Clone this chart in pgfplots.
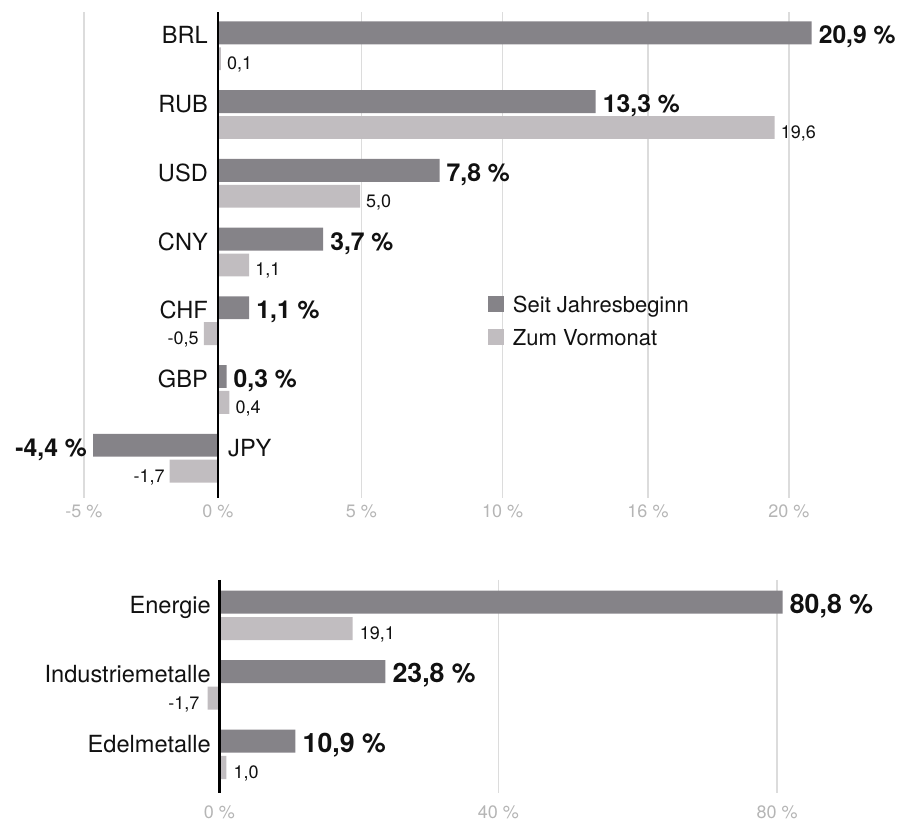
\documentclass[border=0pt]{standalone}
\usepackage{fontspec}
\setmainfont{TeX Gyre Heros}
\usepackage{pgfplots}
\pgfplotsset{compat=1.18}
\definecolor{darkbar}{HTML}{858388}
\definecolor{lightbar}{HTML}{C1BDC0}
\definecolor{gridc}{HTML}{DCDCDC}
\definecolor{tickc}{HTML}{B5B5B5}
\definecolor{txt}{HTML}{111111}
\pgfplotsset{
  mybase/.style={
    scale only axis, clip=false,
    y dir=reverse,
    axis line style={draw=none},
    major tick length=0pt,
    ytick=\empty,
    xtick pos=bottom,
    xmajorgrids,
    grid style={gridc, line width=1.3pt},
    xbar, bar shift=0pt, bar width=0.333,
    xticklabel style={font=\fontsize{18}{18}\selectfont, text=tickc, anchor=north, inner sep=0pt},
    every node near coord/.append style={inner xsep=7pt, inner ysep=0pt, text height=22pt, text depth=0pt, text=txt},
  },
  lab/.style n args={3}{draw=none, fill=none, forget plot, nodes near coords, point meta=explicit symbolic,
    nodes near coords style={anchor=#1, inner xsep=#2, font=#3}},
}
\begin{document}
\begin{tikzpicture}
\path[use as bounding box] (0pt,0pt) rectangle (897pt,822pt);
% ---------------- top chart: currencies ----------------
\begin{axis}[mybase,
  at={(0pt,324pt)}, anchor=south west,
  width=897pt, height=486pt,
  xmin=-7.676, xmax=23.908, ymin=-0.304, ymax=6.768,
  xtick={-4.72,0,5.05,10.02,15.14,20.1},
  xticklabels={-5 \%, 0 \%, 5 \%, 10 \%, 16 \%, 20 \%},
  xticklabel style={yshift=-7pt},
  legend style={at={(axis description cs:0.544,0.4156)}, anchor=north west,
    draw=none, fill=none, inner sep=0pt, outer sep=0pt,
    font=\fontsize{22}{22}\selectfont, text=txt,
    row sep=17pt, column sep=9pt,
    nodes={inner sep=0pt, text height=16pt, text depth=0pt}},
  legend cell align=left,
  legend image code/.code={\fill[#1] (0pt,-8pt) rectangle (16pt,8pt);},
]
% bars
\addplot[fill=darkbar, draw=none] coordinates {
  (20.9,0) (13.3,1) (7.8,2) (3.7,3) (1.1,4) (0.3,5) (-4.4,6)
};
\addlegendentry{Seit Jahresbeginn}
\addplot[fill=lightbar, draw=none] coordinates {
  (0.1,0.377) (19.6,1.377) (5.0,2.377) (1.1,3.377) (-0.5,4.377) (0.4,5.377) (-1.7,6.377)
};
\addlegendentry{Zum Vormonat}
% value labels
\addplot[lab={west}{7pt}{\bfseries\fontsize{24.7}{25}\selectfont}] coordinates {
  (20.9,0) [20,9 \%]
  (13.3,1) [13,3 \%]
  (7.8,2) [7,8 \%]
  (3.7,3) [3,7 \%]
  (1.1,4) [1,1 \%]
  (0.3,5) [0,3 \%]
};
\addplot[lab={east}{6pt}{\bfseries\fontsize{24.7}{25}\selectfont}] coordinates {
  (-4.4,6) [-4,4 \%]
};
\addplot[lab={west}{6pt}{\fontsize{18}{18}\selectfont}] coordinates {
  (0.1,0.377) [0,1]
  (19.6,1.377) [19,6]
  (5.0,2.377) [5,0]
  (1.1,3.377) [1,1]
  (0.4,5.377) [0,4]
};
\addplot[lab={east}{5pt}{\fontsize{18}{18}\selectfont}] coordinates {
  (-0.5,4.377) [-0,5]
  (-1.7,6.377) [-1,7]
};
% category labels
\addplot[lab={east}{10pt}{\fontsize{23.6}{24}\selectfont}] coordinates {
  (0,0) [BRL]
  (0,1) [RUB]
  (0,2) [USD]
  (0,3) [CNY]
  (0,4) [CHF]
  (0,5) [GBP]
};
\addplot[lab={west}{10pt}{\fontsize{23.6}{24}\selectfont}] coordinates {
  (0,6) [JPY]
};
\draw[black, line width=2.6pt] (axis cs:0,-0.304) -- (axis cs:0,6.768);
\end{axis}
% ---------------- bottom chart: commodities ----------------
\begin{axis}[mybase,
  at={(0pt,29pt)}, anchor=south west,
  width=897pt, height=213pt,
  xmin=-31.49, xmax=97.2, ymin=-0.319, ymax=2.746,
  xtick={0,40,80},
  xticklabels={0 \%, 40 \%, 80 \%},
  xticklabel style={yshift=-13pt},
]
\addplot[fill=darkbar, draw=none] coordinates {
  (80.8,0) (23.8,1) (10.9,2)
};
\addplot[fill=lightbar, draw=none] coordinates {
  (19.1,0.38) (-1.7,1.38) (1.0,2.38)
};
\addplot[lab={west}{7pt}{\bfseries\fontsize{26.7}{27}\selectfont}] coordinates {
  (80.8,0) [80,8 \%]
  (23.8,1) [23,8 \%]
  (10.9,2) [10,9 \%]
};
\addplot[lab={west}{7pt}{\fontsize{18}{18}\selectfont}] coordinates {
  (19.1,0.38) [19,1]
  (1.0,2.38) [1,0]
};
\addplot[lab={east}{8pt}{\fontsize{18}{18}\selectfont}] coordinates {
  (-1.7,1.38) [-1,7]
};
\addplot[lab={east}{8.5pt}{\fontsize{23.6}{24}\selectfont}] coordinates {
  (0,0) [Energie]
  (0,1) [Industriemetalle]
  (0,2) [Edelmetalle]
};
\draw[black, line width=2.6pt] (axis cs:0,-0.319) -- (axis cs:0,2.746);
\end{axis}
\end{tikzpicture}
\end{document}
